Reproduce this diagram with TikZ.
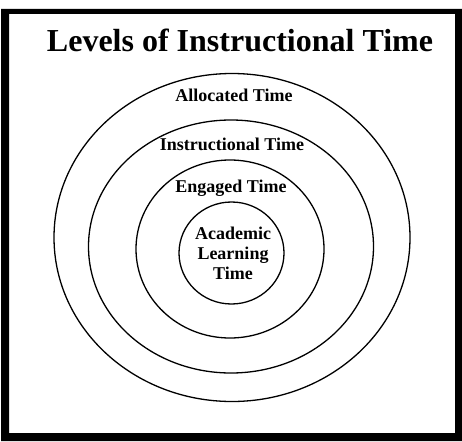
\documentclass[tikz,border=0pt]{standalone}
\usepackage{fontspec}
\setmainfont{Liberation Serif}
\begin{document}
\begin{tikzpicture}[x=1pt,y=-1pt,
  ring/.style={draw=black,line width=1.3pt},
  lbl/.style={inner sep=0pt,anchor=base,font=\bfseries\fontsize{18}{19.5}\selectfont},
  ttl/.style={inner sep=0pt,anchor=base,font=\bfseries\fontsize{32}{36}\selectfont}]
\useasboundingbox (0,0) rectangle (462,441);
\fill[white] (0,0) rectangle (462,441);
% frame
\fill[black,even odd rule] (1,9) rectangle (462,441) (9,14) rectangle (455,433);
% title
\node[ttl] (title) at (240,52) {Levels of Instructional Time};
% rings
\draw[ring] (232,237.5) ellipse [x radius=178, y radius=164];
\draw[ring] (231,246.5) ellipse [x radius=142.5, y radius=126.5];
\draw[ring] (230,249) ellipse [x radius=94, y radius=89];
\draw[ring] (231.5,253) ellipse [x radius=52.5, y radius=51];
% labels
\node[lbl] (alloc) at (234,101) {Allocated Time};
\node[lbl] (instr) at (232,150) {Instructional Time};
\node[lbl] (eng) at (231,192.5) {Engaged Time};
\node[lbl] (acad1) at (233,239) {Academic};
\node[lbl] (acad2) at (233,259) {Learning};
\node[lbl] (acad3) at (233,279) {Time};
\end{tikzpicture}
\end{document}
